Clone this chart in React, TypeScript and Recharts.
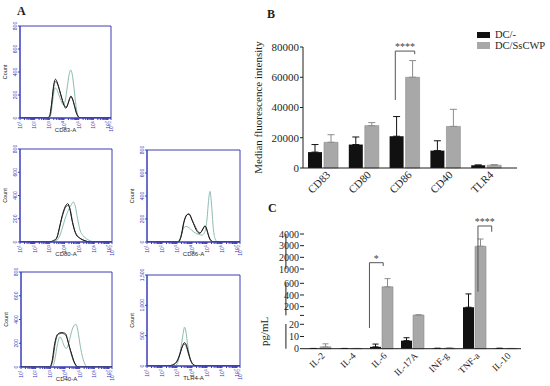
import React from 'react'
import {
  BarChart,
  Bar,
  ErrorBar,
  XAxis,
  YAxis,
  ReferenceLine,
  ReferenceArea,
  Legend,
  LineChart,
  Line,
} from 'recharts'

const serif = '"Liberation Serif", "Times New Roman", serif'
const sans = '"Liberation Sans", Arial, sans-serif'
const ink = '#1e1e1e'
const frameBlue = '#3d3db8'
const ctrlFill = '#111111'
const treatedFill = '#a8a8a8'
const treatedEdge = '#8c8c8c'
const bracketGrey = '#555555'
const histBlack = '#151515'
const histGrey = '#5e5e5e'
const histTeal = '#8dbcb1'

// ---------- A: flow histograms, points are [log10 fluorescence, count] ----------
const cd83Black = [[1, 0], [2.85, 0], [3.0, 15], [3.15, 120], [3.3, 290], [3.42, 337], [3.55, 305], [3.7, 240], [3.85, 170], [4.0, 110], [4.12, 85], [4.25, 115], [4.38, 170], [4.47, 191], [4.58, 165], [4.72, 100], [4.85, 40], [5.0, 8], [5.15, 0], [7.2, 0]]
const cd83Grey = [[1, 0], [2.9, 0], [3.05, 20], [3.2, 170], [3.35, 300], [3.45, 318], [3.58, 285], [3.75, 215], [3.9, 150], [4.05, 105], [4.15, 95], [4.3, 135], [4.45, 180], [4.55, 172], [4.7, 115], [4.85, 45], [5.0, 10], [5.15, 0], [7.2, 0]]
const cd83Teal = [[1, 0], [2.95, 0], [3.1, 30], [3.25, 170], [3.38, 262], [3.5, 250], [3.65, 200], [3.8, 150], [3.95, 115], [4.08, 150], [4.22, 270], [4.35, 380], [4.45, 417], [4.55, 385], [4.68, 260], [4.8, 120], [4.92, 30], [5.05, 0], [7.2, 0]]

const cd80Black = [[1, 0], [3.0, 0], [3.2, 10], [3.45, 30], [3.65, 120], [3.82, 215], [4.0, 290], [4.15, 325], [4.22, 330], [4.35, 290], [4.5, 190], [4.65, 110], [4.8, 60], [5.0, 35], [5.2, 20], [5.45, 8], [5.7, 0], [7.2, 0]]
const cd80Grey = [[1, 0], [3.1, 0], [3.35, 10], [3.55, 60], [3.75, 170], [3.95, 260], [4.1, 305], [4.25, 315], [4.4, 270], [4.55, 170], [4.7, 95], [4.9, 50], [5.1, 28], [5.4, 10], [5.7, 0], [7.2, 0]]
const cd80Teal = [[1, 0], [3.2, 0], [3.45, 10], [3.7, 60], [3.9, 140], [4.05, 205], [4.25, 270], [4.45, 320], [4.6, 344], [4.72, 310], [4.88, 200], [5.05, 100], [5.25, 55], [5.45, 30], [5.7, 12], [6.0, 0], [7.2, 0]]

const cd86Black = [[1, 0], [3.05, 0], [3.25, 40], [3.45, 170], [3.65, 235], [3.8, 245], [3.95, 210], [4.1, 160], [4.3, 100], [4.5, 75], [4.65, 95], [4.8, 130], [4.88, 138], [5.0, 100], [5.15, 35], [5.3, 8], [5.45, 0], [7.2, 0]]
const cd86Grey = [[1, 0], [3.1, 0], [3.3, 60], [3.5, 190], [3.7, 240], [3.85, 235], [4.0, 190], [4.2, 140], [4.4, 90], [4.55, 80], [4.72, 110], [4.85, 140], [4.95, 125], [5.1, 60], [5.25, 15], [5.4, 0], [7.2, 0]]
const cd86Teal = [[1, 0], [3.0, 0], [3.2, 30], [3.4, 110], [3.6, 135], [3.8, 125], [4.0, 100], [4.2, 80], [4.45, 65], [4.65, 60], [4.85, 85], [5.0, 200], [5.12, 380], [5.2, 440], [5.3, 330], [5.42, 120], [5.55, 25], [5.7, 0], [7.2, 0]]

const cd40Black = [[1, 0], [2.95, 0], [3.1, 40], [3.3, 200], [3.45, 268], [3.6, 285], [3.75, 290], [3.9, 288], [4.05, 278], [4.15, 240], [4.3, 170], [4.45, 110], [4.6, 50], [4.75, 15], [4.9, 0], [7.2, 0]]
const cd40Grey = [[1, 0], [3.0, 0], [3.15, 50], [3.35, 210], [3.5, 270], [3.65, 280], [3.8, 285], [3.95, 275], [4.1, 255], [4.25, 190], [4.4, 120], [4.55, 60], [4.7, 20], [4.85, 0], [7.2, 0]]
const cd40Teal = [[1, 0], [3.15, 0], [3.3, 60], [3.5, 200], [3.65, 254], [3.8, 225], [3.95, 175], [4.1, 156], [4.25, 200], [4.45, 300], [4.65, 355], [4.75, 359], [4.88, 300], [5.05, 170], [5.2, 80], [5.35, 25], [5.5, 0], [7.2, 0]]

const tlr4Black = [[1, 0], [2.4, 0], [2.7, 20], [2.95, 60], [3.15, 160], [3.35, 320], [3.5, 386], [3.6, 360], [3.75, 230], [3.9, 100], [4.05, 30], [4.2, 8], [4.35, 0], [7.2, 0]]
const tlr4Grey = [[1, 0], [2.5, 0], [2.8, 25], [3.0, 80], [3.2, 210], [3.4, 340], [3.52, 360], [3.65, 300], [3.8, 170], [3.95, 70], [4.1, 20], [4.3, 0], [7.2, 0]]
const tlr4Teal = [[1, 0], [2.85, 0], [3.05, 60], [3.25, 280], [3.4, 520], [3.5, 640], [3.6, 560], [3.72, 330], [3.85, 150], [4.0, 50], [4.15, 10], [4.3, 0], [7.2, 0]]

const countTicks = [0, 200, 400, 600, 800]
const tlr4CountTicks = [0, 500, 1000, 1500]
const decades = [1, 2, 3, 4, 5, 6, 7, 7.2]
const minorDecadeTicks = [1, 2, 3, 4, 5, 6].flatMap((d) =>
  [2, 3, 4, 5, 6, 7, 8, 9].map((k) => d + Math.log10(k))
)
const logTicks = [...decades, ...minorDecadeTicks].sort((a, b) => a - b)

// ---------- B: surface markers (MFI) ----------
const markers = ['CD83', 'CD80', 'CD86', 'CD40', 'TLR4']
const mfiCtrl = [10500, 15500, 21000, 11500, 1800]
const mfiCtrlSd = [5000, 5000, 13000, 6500, 200]
const mfiTreated = [17000, 28000, 60000, 27500, 1900]
const mfiTreatedSd = [5000, 2000, 11000, 11300, 300]
const mfiTicks = [0, 20000, 40000, 60000, 80000]

// ---------- C: cytokines (pg/mL), split axis ----------
const cytokines = ['IL-2', 'IL-4', 'IL-6', 'IL-17A', 'INF-g', 'TNF-a', 'IL-10']
const pgCtrl = [0.2, 0.2, 1.5, 6.6, 0.3, 190, 0.3]
const pgCtrlSd = [0, 0, 2.3, 2.4, 0, 228, 0]
const pgTreated = [1.5, 0.2, 540, 57, 0.4, 2950, 0.2]
const pgTreatedSd = [2.5, 0, 190, 3, 0.2, 620, 0]
const pgTicks = [0, 10, 20, 50, 200, 400, 600, 1000, 2000, 3000, 4000]
// where each break of the split axis sits, as a share of the axis height
const pgAxisStops = [[0, 0], [20, 0.2127], [50, 0.2903], [600, 0.5702], [1000, 0.6949], [4000, 1]]

function brokenScale(): any {
  let dom = [0, 4000]
  let rng = [0, 1]
  const share = (v: number) => {
    let i = 0
    while (i < pgAxisStops.length - 2 && v > pgAxisStops[i + 1][0]) i++
    const [v0, f0] = pgAxisStops[i]
    const [v1, f1] = pgAxisStops[i + 1]
    return f0 + ((v - v0) / (v1 - v0)) * (f1 - f0)
  }
  const s: any = (v: number) => rng[0] + share(v) * (rng[1] - rng[0])
  s.domain = (d?: number[]) => {
    if (!d) return dom.slice()
    dom = d
    return s
  }
  s.range = (r?: number[]) => {
    if (!r) return rng.slice()
    rng = r
    return s
  }
  s.copy = () => brokenScale().domain(dom).range(rng)
  s.ticks = () => pgTicks
  s.tickFormat = () => (v: number) => String(v)
  return s
}

const mfiRows = markers.map((m, i) => ({
  marker: m,
  ctrl: mfiCtrl[i],
  ctrlSd: [0, mfiCtrlSd[i]],
  treated: mfiTreated[i],
  treatedSd: [0, mfiTreatedSd[i]],
}))

const pgRows = cytokines.map((c, i) => ({
  cytokine: c,
  ctrl: pgCtrl[i],
  ctrlSd: [0, pgCtrlSd[i]],
  treated: pgTreated[i],
  treatedSd: [0, pgTreatedSd[i]],
}))

function DecadeTick(props: any) {
  const { x, y, payload } = props
  const v = payload.value
  if (!decades.includes(v)) return null
  return (
    <text transform={`translate(${x},${y}) rotate(-90)`} textAnchor="end" dy={1.8} fontSize={5} fontFamily={sans} fill={frameBlue}>
      10<tspan dy={-1.5} fontSize={3.8}>{v === 7.2 ? '7.2' : v}</tspan>
    </text>
  )
}

function CountTick(props: any) {
  const { x, y, payload } = props
  return (
    <text transform={`translate(${x},${y}) rotate(-90)`} textAnchor="middle" fontSize={5} fontFamily={sans} fill={frameBlue}>
      {payload.value.toLocaleString('en-US')}
    </text>
  )
}

// rotated y-axis title, centred on the plot height (shift nudges it along the axis)
const yTitle = (text: string, fromLeft: number, size: number, font: string, shift = 0) => ({
  content: (props: any) => {
    const vb = props.viewBox || {}
    const cx = vb.x + fromLeft
    const cy = vb.y + vb.height / 2 + shift
    return (
      <text transform={`translate(${cx},${cy}) rotate(-90)`} textAnchor="middle" dominantBaseline="central" fontSize={size} fontFamily={font} fill={ink}>
        {text}
      </text>
    )
  },
})

const histPanels = [
  { name: 'CD83-A', box: [20, 26, 111, 118], yMax: 800, ticks: countTicks, curves: [cd83Teal, cd83Grey, cd83Black] },
  { name: 'CD80-A', box: [20, 149, 112, 242], yMax: 800, ticks: countTicks, curves: [cd80Teal, cd80Grey, cd80Black] },
  { name: 'CD86-A', box: [147, 150, 240, 242], yMax: 800, ticks: countTicks, curves: [cd86Teal, cd86Grey, cd86Black] },
  { name: 'CD40-A', box: [21, 272, 112, 367], yMax: 800, ticks: countTicks, curves: [cd40Teal, cd40Grey, cd40Black] },
  { name: 'TLR4-A', box: [147, 275, 240, 366], yMax: 1500, ticks: tlr4CountTicks, curves: [tlr4Teal, tlr4Grey, tlr4Black] },
]
const curveColors = [histTeal, histGrey, histBlack]

function Histogram({ panel }: { panel: (typeof histPanels)[number] }) {
  const [L, T, R, B] = panel.box
  return (
    <div style={{ position: 'absolute', left: L - 20, top: T - 6 }}>
      <LineChart width={R - L + 28} height={B - T + 24} margin={{ top: 6, right: 8, left: 0, bottom: 0 }}>
        <XAxis
          type="number"
          dataKey="x"
          domain={[1, 7.2]}
          allowDataOverflow
          ticks={logTicks}
          interval={0}
          height={18}
          tickSize={2}
          tickMargin={1}
          stroke={frameBlue}
          tick={DecadeTick}
          label={{ value: panel.name, position: 'insideBottom', offset: 4, fontSize: 6, fill: ink, fontFamily: sans }}
        />
        <YAxis
          type="number"
          domain={[0, panel.yMax]}
          allowDataOverflow
          ticks={panel.ticks}
          interval={0}
          width={20}
          tickSize={2}
          tickMargin={1}
          stroke={frameBlue}
          tick={CountTick}
          label={yTitle('Count', 5, 5.5, sans)}
        />
        <ReferenceArea x1={1} x2={7.2} y1={0} y2={panel.yMax} fill="none" fillOpacity={0} stroke={frameBlue} strokeWidth={1} ifOverflow="visible" />
        {panel.curves.map((c, i) => (
          <Line
            key={i}
            data={c.map(([x, y]) => ({ x, y }))}
            dataKey="y"
            type="monotone"
            dot={false}
            stroke={curveColors[i]}
            strokeWidth={1}
            isAnimationActive={false}
          />
        ))}
      </LineChart>
    </div>
  )
}

function LegendBox(props: any) {
  const { payload } = props
  return (
    <div style={{ fontFamily: serif, fontSize: 10.5, lineHeight: '10px', color: ink }}>
      {(payload || []).map((p: any) => (
        <div key={p.value} style={{ display: 'flex', alignItems: 'center', height: 10, marginBottom: 0.5, whiteSpace: 'nowrap' }}>
          <span style={{ display: 'inline-block', width: 13, height: 6.5, background: p.color, marginRight: 5 }} />
          {p.value}
        </div>
      ))}
    </div>
  )
}

const panelLetter = (txt: string, left: number, top: number) => (
  <div style={{ position: 'absolute', left, top, fontFamily: serif, fontWeight: 'bold', fontSize: 12, lineHeight: '12px', color: ink }}>
    {txt}
  </div>
)

export default function App() {
  return (
    <div style={{ position: 'absolute', left: 0, top: 0, width: 550, height: 386, background: '#fff', overflow: 'hidden' }}>
      {panelLetter('A', 17, 5)}
      {panelLetter('B', 267, 8)}
      {panelLetter('C', 268, 202)}

      {histPanels.map((p) => (
        <Histogram key={p.name} panel={p} />
      ))}

      {/* B */}
      <div style={{ position: 'absolute', left: 240, top: 0 }}>
        <BarChart width={310} height={200} data={mfiRows} margin={{ top: 47, right: 33, left: 0, bottom: 0 }} barSize={14} barGap={2}>
          <XAxis
            dataKey="marker"
            padding={{ left: 0, right: 10 }}
            height={32}
            interval={0}
            tickLine={false}
            tickSize={0}
            tickMargin={2}
            stroke={ink}
            tick={{ angle: -45, textAnchor: 'end', verticalAnchor: 'start', fontSize: 11, fill: ink, fontFamily: serif, dx: 2 }}
          />
          <XAxis xAxisId="num" type="number" domain={[-0.5, 4.5]} allowDataOverflow padding={{ left: 0, right: 10 }} hide />
          <YAxis
            domain={[0, 80000]}
            ticks={mfiTicks}
            interval={0}
            width={63}
            tickSize={3}
            tickMargin={1}
            stroke={ink}
            tick={{ fontSize: 11, fill: ink, fontFamily: serif }}
            label={yTitle('Median fluorescence intensity', 18, 11, serif)}
          />
          <Legend layout="vertical" align="center" verticalAlign="middle" wrapperStyle={{ left: 237, top: 30, width: 'auto' }} content={LegendBox} />
          <Bar dataKey="ctrl" name="DC/-" fill={ctrlFill} isAnimationActive={false}>
            <ErrorBar dataKey="ctrlSd" width={3.5} stroke={ctrlFill} strokeWidth={1} />
          </Bar>
          <Bar dataKey="treated" name="DC/SsCWP" fill={treatedFill} stroke={treatedEdge} strokeWidth={0.6} isAnimationActive={false}>
            <ErrorBar dataKey="treatedSd" width={3.5} stroke={treatedEdge} strokeWidth={1} />
          </Bar>
          <ReferenceLine xAxisId="num" segment={[{ x: 1.81, y: 45000 }, { x: 1.81, y: 77300 }]} stroke={bracketGrey} ifOverflow="visible" />
          <ReferenceLine
            xAxisId="num"
            segment={[{ x: 1.81, y: 77300 }, { x: 2.19, y: 77300 }]}
            stroke={bracketGrey}
            ifOverflow="visible"
            label={{ value: '****', position: 'top', offset: 1, fill: '#444', fontSize: 10, fontFamily: serif }}
          />
          <ReferenceLine xAxisId="num" segment={[{ x: 2.19, y: 77300 }, { x: 2.19, y: 75300 }]} stroke={bracketGrey} ifOverflow="visible" />
        </BarChart>
      </div>

      {/* C */}
      <div style={{ position: 'absolute', left: 240, top: 200 }}>
        <BarChart width={310} height={186} data={pgRows} margin={{ top: 34, right: 29, left: 0, bottom: 0 }} barSize={11} barGap={1}>
          <XAxis
            dataKey="cytokine"
            height={37.3}
            interval={0}
            tickLine={false}
            tickSize={0}
            tickMargin={3}
            stroke={ink}
            tick={{ angle: -45, textAnchor: 'end', verticalAnchor: 'start', fontSize: 9.5, fill: ink, fontFamily: serif, dx: 1 }}
          />
          <XAxis xAxisId="num" type="number" domain={[-0.5, 6.5]} allowDataOverflow hide />
          <YAxis
            type="number"
            scale={brokenScale()}
            domain={[0, 4000]}
            ticks={pgTicks}
            interval={0}
            width={64}
            axisLine={false}
            tickSize={4}
            tickMargin={1}
            stroke={ink}
            tickFormatter={(v: number) => (v === 50 ? '' : String(v))}
            tick={{ fontSize: 10, fill: ink, fontFamily: serif }}
            label={yTitle('pg/mL', 24, 11, serif, 40)}
          />
          <ReferenceLine xAxisId="num" segment={[{ x: -0.5, y: 0 }, { x: -0.5, y: 21 }]} stroke={ink} ifOverflow="visible" />
          <ReferenceLine xAxisId="num" segment={[{ x: -0.5, y: 50 }, { x: -0.5, y: 610 }]} stroke={ink} ifOverflow="visible" />
          <ReferenceLine xAxisId="num" segment={[{ x: -0.5, y: 1000 }, { x: -0.5, y: 4000 }]} stroke={ink} ifOverflow="visible" />
          <Bar dataKey="ctrl" name="DC/-" fill={ctrlFill} isAnimationActive={false}>
            <ErrorBar dataKey="ctrlSd" width={3} stroke={ctrlFill} strokeWidth={1} />
          </Bar>
          <Bar dataKey="treated" name="DC/SsCWP" fill={treatedFill} stroke={treatedEdge} strokeWidth={0.6} isAnimationActive={false}>
            <ErrorBar dataKey="treatedSd" width={3} stroke={treatedEdge} strokeWidth={1} />
          </Bar>
          {/* IL-6 bracket */}
          <ReferenceLine xAxisId="num" segment={[{ x: 1.81, y: 17 }, { x: 1.81, y: 1540 }]} stroke={bracketGrey} ifOverflow="visible" />
          <ReferenceLine
            xAxisId="num"
            segment={[{ x: 1.81, y: 1540 }, { x: 2.19, y: 1540 }]}
            stroke={bracketGrey}
            ifOverflow="visible"
            label={{ value: '*', position: 'top', offset: 1, fill: '#444', fontSize: 10, fontFamily: serif }}
          />
          <ReferenceLine xAxisId="num" segment={[{ x: 2.19, y: 1540 }, { x: 2.19, y: 1257 }]} stroke={bracketGrey} ifOverflow="visible" />
          {/* TNF-a bracket */}
          <ReferenceLine xAxisId="num" segment={[{ x: 4.81, y: 457 }, { x: 4.81, y: 4686 }]} stroke={bracketGrey} ifOverflow="visible" />
          <ReferenceLine
            xAxisId="num"
            segment={[{ x: 4.81, y: 4686 }, { x: 5.19, y: 4686 }]}
            stroke={bracketGrey}
            ifOverflow="visible"
            label={{ value: '****', position: 'top', offset: 1, fill: '#444', fontSize: 10, fontFamily: serif }}
          />
          <ReferenceLine xAxisId="num" segment={[{ x: 5.19, y: 4686 }, { x: 5.19, y: 4197 }]} stroke={bracketGrey} ifOverflow="visible" />
        </BarChart>
      </div>
    </div>
  )
}
